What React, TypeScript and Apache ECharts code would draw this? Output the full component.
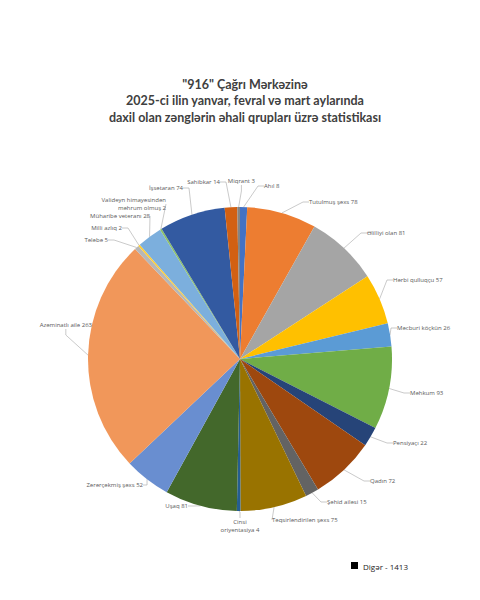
import React, { useEffect, useRef } from "react";
import * as echarts from "echarts";

const categories = [
  "Ahıl", "Tutulmuş şəxs", "Əlilliyi olan", "Hərbi qulluqçu", "Məcburi köçkün",
  "Məhkum", "Pensiyaçı", "Qadın", "Şəhid ailəsi", "Təqsirləndirilən şəxs",
  "Cinsi\noriyentasiya", "Uşaq", "Zərərçəkmiş şəxs", "Azəminatlı ailə", "Tələbə",
  "Milli azlıq", "Müharibə veteranı", "Valideyn himayəsindən\nməhrum olmuş", "İşsətaran", "Sahibkar",
  "Miqrant",
];
const values = [8, 78, 81, 57, 26, 93, 22, 72, 15, 75, 4, 81, 52, 263, 5, 2, 28, 2, 74, 14, 3];
const otherLabel = "Digər";
const otherValue = 1413;

const colors = [
  "#4472C4", "#ED7D31", "#A5A5A5", "#FFC000", "#5B9BD5", "#70AD47", "#264478",
  "#9E480E", "#636363", "#997300", "#255E91", "#43682B", "#698ED0", "#F1975A",
  "#B7B7B7", "#FFCD33", "#7CAFDD", "#8CC168", "#335AA1", "#D26012", "#848484",
];

// label anchor positions [x, y, align]
const labelPos: [number, number, string][] = [
  [264, 186, "left"],
  [309, 202, "left"],
  [367, 233, "left"],
  [393, 280, "left"],
  [397, 328, "left"],
  [410, 393, "left"],
  [393, 443, "left"],
  [370, 481, "left"],
  [327, 502, "left"],
  [272, 520, "left"],
  [240, 526, "center"],
  [188, 506, "right"],
  [143, 485, "right"],
  [92, 325, "right"],
  [108, 240, "right"],
  [122, 228, "right"],
  [150, 216, "right"],
  [166, 204, "right"],
  [183, 188, "right"],
  [220, 182, "right"],
  [255, 181, "right"],
];

export default function App() {
  const ref = useRef<HTMLDivElement>(null);
  useEffect(() => {
    if (!ref.current) return;
    const chart = echarts.init(ref.current, null, { renderer: "svg" });
    chart.setOption({
      animation: false,
      backgroundColor: "#ffffff",
      title: {
        text: '"916" Çağrı Mərkəzinə\n2025-ci ilin yanvar, fevral və mart aylarında\ndaxil olan zənglərin əhali qrupları üzrə statistikası',
        left: 240,
        top: 71,
        textAlign: "center",
        textStyle: {
          fontFamily: "Lato",
          fontSize: 12.5,
          fontWeight: "bold",
          color: "#404040",
          lineHeight: 16.5,
        },
      },
      series: [
        {
          type: "pie",
          center: [240, 359],
          radius: 152,
          startAngle: 90,
          clockwise: true,
          data: categories.map((c, i) => ({
            name: c,
            value: values[i],
            itemStyle: { color: colors[i] },
          })),
          label: {
            show: true,
            formatter: (p: any) => {
              const parts = String(p.name).split("\n");
              if (parts.length > 1) return parts[0] + "\n" + parts[1] + " " + p.value;
              return p.name + " " + p.value;
            },
            fontFamily: "Open Sans",
            fontSize: 6,
            color: "#595959",
            lineHeight: 8,
          },
          labelLine: {
            show: true,
            length: 8,
            length2: 6,
            lineStyle: { color: "#A6A6A6", width: 0.6 },
          },
          labelLayout: (params: any) => {
            const p = labelPos[params.dataIndex];
            return {
              x: p[0],
              y: p[1],
              align: p[2],
              verticalAlign: "middle",
            };
          },
        },
      ],
      graphic: [
        { type: "rect", shape: { x: 351, y: 562, width: 7, height: 7 }, style: { fill: "#000" } },
        {
          type: "text",
          x: 363,
          y: 566,
          style: {
            text: otherLabel + " - " + otherValue,
            fontFamily: "Open Sans",
            fontSize: 8,
            fill: "#222",
            verticalAlign: "middle",
          },
        },
      ],
    });
    return () => chart.dispose();
  }, []);
  return (
    <div
      ref={ref}
      style={{ position: "fixed", left: 0, top: 0, width: 480, height: 600 }}
    />
  );
}
